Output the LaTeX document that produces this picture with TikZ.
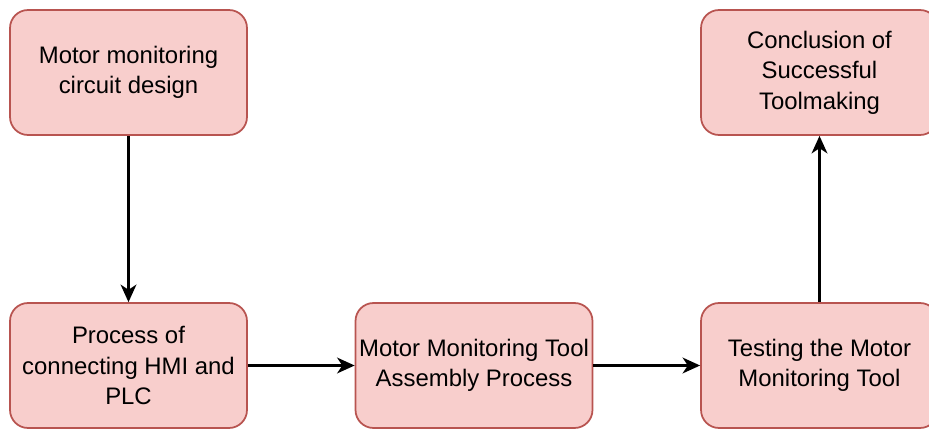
\documentclass[tikz,border=0pt]{standalone}
\usepackage{fontspec}
\setmainfont{Liberation Sans}
\usetikzlibrary{arrows.meta}
\definecolor{boxfill}{HTML}{F8CECC}
\definecolor{boxline}{HTML}{B85450}
\begin{document}
\begin{tikzpicture}[x=0.02cm,y=-0.02cm,
    stage/.style={draw=boxline,fill=boxfill,line width=1pt,rounded corners=0.36cm,
      minimum width=4.74cm,minimum height=2.5cm,align=center,inner sep=2pt,
      font=\fontsize{13.6}{17.3}\selectfont},
    flow/.style={-{Stealth[length=10pt,width=9pt,inset=3pt]},line width=1.3pt}]
      \useasboundingbox (0,0) rectangle (929,429);
      \draw
        (128.5,72.5) node[stage] (design){Motor monitoring\\circuit design}
        (128.5,365.5) node[stage] (hmi){Process of\\connecting HMI and\\PLC}
        (474,365.5) node[stage] (assembly){Motor Monitoring Tool\\Assembly Process}
        (819.5,365.5) node[stage] (testing){Testing the Motor\\Monitoring Tool}
        (819.5,72.5) node[stage] (conclusion){Conclusion of\\Successful\\Toolmaking};
      \begin{scope}[flow]
        \draw (design) to (hmi);
        \draw (hmi) to (assembly);
        \draw (assembly) to (testing);
        \draw (testing) to (conclusion);
      \end{scope}
    \end{tikzpicture}
\end{document}
